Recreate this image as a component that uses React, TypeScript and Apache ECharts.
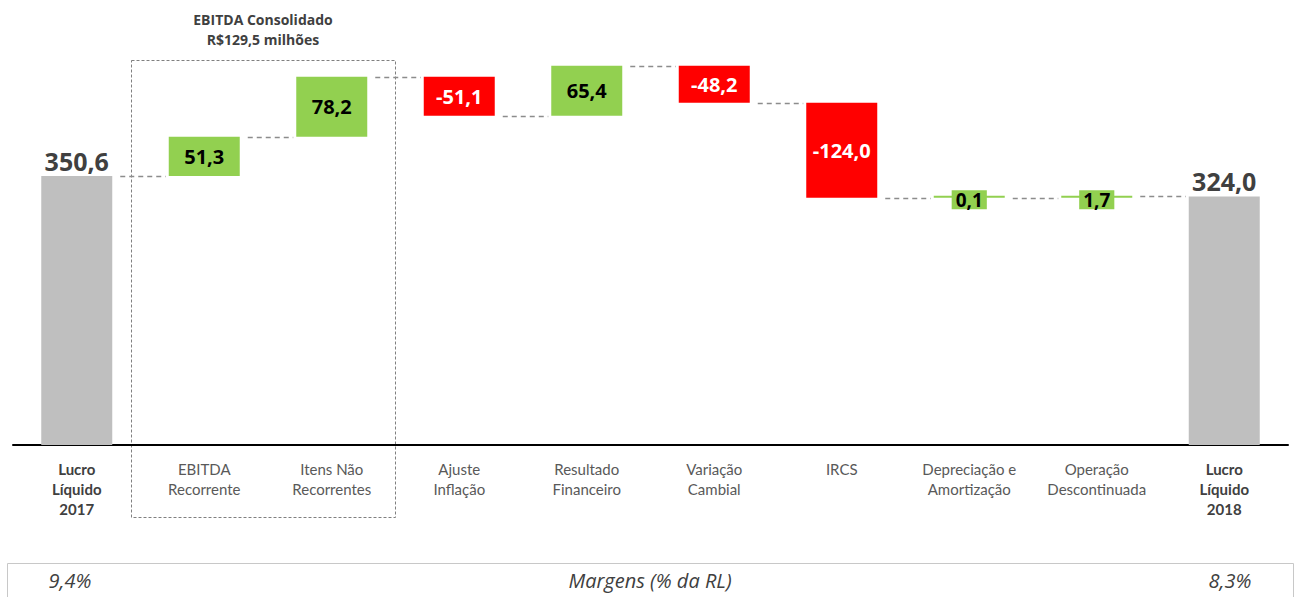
import React, { useEffect, useRef } from "react";
import * as echarts from "echarts";

const categories = [
  "Lucro\nLíquido\n2017",
  "EBITDA\nRecorrente",
  "Itens Não\nRecorrentes",
  "Ajuste\nInflação",
  "Resultado\nFinanceiro",
  "Variação\nCambial",
  "IRCS",
  "Depreciação e\nAmortização",
  "Operação\nDescontinuada",
  "Lucro\nLíquido\n2018",
];
const startTotal = 350.6;
const deltas = [51.3, 78.2, -51.1, 65.4, -48.2, -124.0, 0.1, 1.7];
const endTotal = 324.0;
const groupTitle = ["EBITDA Consolidado", "R$129,5 milhões"];
const marginLabels = ["9,4%", "Margens (% da RL)", "8,3%"];

const GREEN = "#92d050";
const RED = "#ff0000";
const GRAY = "#bfbfbf";
const DARK = "#404040";
const FONT = "Lato, 'Open Sans', sans-serif";
const FONT2 = "'Open Sans', Lato, sans-serif";

const fmt = (v: number) => v.toFixed(1).replace(".", ",");
const r1 = (v: number) => Math.round(v * 10) / 10;

// build waterfall arrays
const signed: number[] = [startTotal, ...deltas, endTotal];
const bases: number[] = [0];
const heights: number[] = [startTotal];
const levels: number[] = [startTotal];
{
  let run = startTotal;
  deltas.forEach((d) => {
    const prev = run;
    run = r1(run + d);
    bases.push(Math.min(prev, run));
    heights.push(Math.abs(d));
    levels.push(run);
  });
  bases.push(0);
  heights.push(endTotal);
  levels.push(endTotal);
}
const isTotal = (i: number) => i === 0 || i === categories.length - 1;

export default function App() {
  const ref = useRef<HTMLDivElement>(null);
  useEffect(() => {
    if (!ref.current) return;
    const chart = echarts.init(ref.current, undefined, { renderer: "svg" });
    const BW = 71;
    const valueData = heights.map((h, i) => {
      const tot = isTotal(i);
      const d = signed[i];
      const small = !tot && Math.abs(d) < 5;
      return {
        value: h,
        itemStyle: { color: tot ? GRAY : d >= 0 ? GREEN : RED },
        label: tot
          ? {
              show: true,
              position: "top",
              distance: 3,
              fontSize: 25,
              fontWeight: "bold",
              color: DARK,
              fontFamily: FONT2,
            }
          : small
          ? {
              show: true,
              position: "inside",
              offset: [0, 3],
              fontSize: 19,
              fontWeight: "bold",
              color: "#000",
              backgroundColor: GREEN,
              padding: [0, 4, 0, 4],
              fontFamily: FONT2,
            }
          : {
              show: true,
              position: "inside",
              fontSize: 20,
              fontWeight: "bold",
              color: d >= 0 ? "#000" : "#fff",
              fontFamily: FONT2,
            },
      };
    });
    const connectorData = levels
      .slice(0, levels.length - 1)
      .map((l, i) => [i, l, i]);

    const txt = (x: number, y: number, text: string, extra: any) => ({
      type: "text",
      x,
      y,
      style: {
        text,
        fill: DARK,
        align: "center",
        verticalAlign: "middle",
        ...extra,
      },
    });

    chart.setOption({
      animation: false,
      grid: { left: 13, width: 1275, top: 0, height: 445 },
      xAxis: {
        type: "category",
        data: categories,
        axisLine: { lineStyle: { color: "#000", width: 2 } },
        axisTick: { show: false },
        axisLabel: {
          interval: 0,
          margin: 14,
          formatter: (v: string, idx: number) =>
            v
              .split("\n")
              .map((l) => (isTotal(idx) ? `{b|${l}}` : `{n|${l}}`))
              .join("\n"),
          rich: {
            b: {
              fontFamily: FONT,
              fontSize: 15,
              fontWeight: "bold",
              color: DARK,
              lineHeight: 20,
            },
            n: {
              fontFamily: FONT,
              fontSize: 15,
              color: "#595959",
              lineHeight: 20,
            },
          },
        },
      },
      yAxis: { type: "value", min: 0, max: 580, show: false },
      series: [
        {
          type: "bar",
          stack: "w",
          barWidth: BW,
          data: bases,
          itemStyle: { color: "transparent" },
          silent: true,
        },
        {
          type: "bar",
          stack: "w",
          barWidth: BW,
          barMinHeight: 2,
          data: valueData,
          label: {
            formatter: (p: any) => fmt(signed[p.dataIndex]),
          },
        },
        {
          type: "custom",
          data: connectorData,
          renderItem: (params: any, api: any) => {
            const i = api.value(2);
            const lv = api.value(1);
            const a = api.coord([i, lv]);
            const b = api.coord([i + 1, lv]);
            const y = Math.round(a[1]) + 0.5;
            return {
              type: "line",
              shape: { x1: a[0] + BW / 2 + 8, y1: y, x2: b[0] - BW / 2 - 3, y2: y },
              style: { stroke: "#8c8c8c", lineWidth: 1.3, lineDash: [5, 4] },
            };
          },
          z: 1,
        },
      ],
      graphic: [
        {
          type: "rect",
          shape: { x: 131.5, y: 60.5, width: 264, height: 457 },
          style: { fill: "none", stroke: "#808080", lineWidth: 1, lineDash: [3, 2] },
        },
        txt(263, 19, groupTitle[0], { fontFamily: FONT2, fontSize: 14, fontWeight: "bold" }),
        txt(263, 39, groupTitle[1], { fontFamily: FONT2, fontSize: 14, fontWeight: "bold" }),
        {
          type: "rect",
          shape: { x: 7.5, y: 563.5, width: 1286, height: 50 },
          style: { fill: "none", stroke: "#c8c8c8", lineWidth: 1 },
        },
        txt(70, 580, marginLabels[0], { fontFamily: FONT2, fontSize: 20, fontStyle: "italic" }),
        txt(650, 580, marginLabels[1], { fontFamily: FONT2, fontSize: 20, fontStyle: "italic" }),
        txt(1230, 580, marginLabels[2], { fontFamily: FONT2, fontSize: 20, fontStyle: "italic" }),
      ],
    });
    return () => chart.dispose();
  }, []);
  return (
    <div
      ref={ref}
      style={{ position: "fixed", left: 0, top: 0, width: 1297, height: 597, background: "#fff" }}
    />
  );
}
